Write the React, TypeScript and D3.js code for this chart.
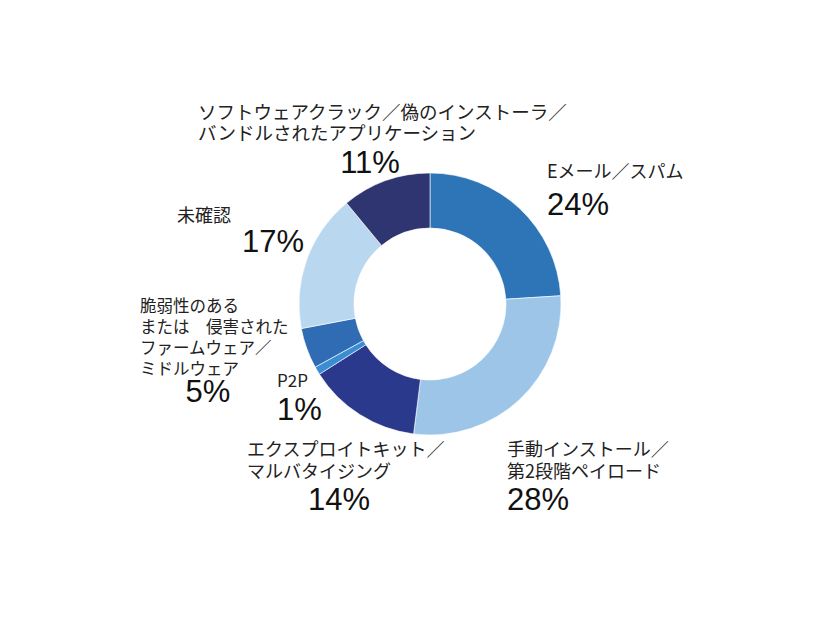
import React, { useEffect, useRef } from 'react';
import * as d3 from 'd3';

// Data (clockwise from 12 o'clock)
const categories = [
  'Eメール／スパム',
  '手動インストール／第2段階ペイロード',
  'エクスプロイトキット／マルバタイジング',
  'P2P',
  '脆弱性のある または 侵害されたファームウェア／ミドルウェア',
  '未確認',
  'ソフトウェアクラック／偽のインストーラ／バンドルされたアプリケーション',
];
const values = [24, 28, 14, 1, 5, 17, 11];
const labelLines = [
  ['Eメール／スパム'],
  ['手動インストール／', '第2段階ペイロード'],
  ['エクスプロイトキット／', 'マルバタイジング'],
  ['P2P'],
  ['脆弱性のある', 'または　侵害された', 'ファームウェア／', 'ミドルウェア'],
  ['未確認'],
  ['ソフトウェアクラック／偽のインストーラ／', 'バンドルされたアプリケーション'],
];
const colors = ['#2e75b8', '#9cc5e8', '#2b398c', '#3a8dd2', '#2f6cb4', '#bad7f0', '#2e3570'];

// label layout: text block left x, first baseline, line gap, font size, pct x, pct baseline, pct anchor
const labelLayout = [
  { x: 547, y: 178, gap: 22, fs: 18, px: 547, py: 215, anchor: 'start' },
  { x: 507, y: 456, gap: 22, fs: 18, px: 507, py: 510, anchor: 'start' },
  { x: 247, y: 456, gap: 22, fs: 18, px: 339, py: 510, anchor: 'middle' },
  { x: 277, y: 387, gap: 22, fs: 17, px: 277, py: 420, anchor: 'start' },
  { x: 140, y: 312, gap: 21, fs: 16.5, px: 208, py: 402, anchor: 'middle' },
  { x: 177, y: 222, gap: 22, fs: 18, px: 273, py: 252, anchor: 'middle' },
  { x: 198, y: 119, gap: 21, fs: 18.5, px: 370, py: 173, anchor: 'middle' },
];

const W = 826;
const H = 620;
const cx = 430;
const cy = 304;
const outerR = 131;
const innerR = 76;

const labelFont = '"Noto Sans CJK JP", "Noto Sans", sans-serif';
const pctFont = '"Liberation Sans", Arial, sans-serif';

const App = () => {
  const ref = useRef<SVGSVGElement>(null);

  useEffect(() => {
    const svg = d3.select(ref.current);
    svg.selectAll('*').remove();

    const pie = d3.pie<number>().sort(null).value(d => d);
    const arc = d3.arc<d3.PieArcDatum<number>>().innerRadius(innerR).outerRadius(outerR);
    const color = d3.scaleOrdinal<number, string>().domain(d3.range(values.length)).range(colors);

    const g = svg.append('g').attr('transform', `translate(${cx},${cy})`);
    g.selectAll('path')
      .data(pie(values))
      .enter()
      .append('path')
      .attr('d', arc)
      .attr('fill', (d, i) => color(i))
      .attr('stroke', '#ffffff')
      .attr('stroke-width', 0.6);

    // Labels
    categories.forEach((c, i) => {
      const lay = labelLayout[i];
      const t = svg.append('text')
        .attr('font-family', labelFont)
        .attr('font-size', lay.fs)
        .attr('fill', '#222');
      labelLines[i].forEach((line, j) => {
        t.append('tspan')
          .attr('x', lay.x)
          .attr('y', lay.y + j * lay.gap)
          .text(line);
      });
      svg.append('text')
        .attr('x', lay.px)
        .attr('y', lay.py)
        .attr('text-anchor', lay.anchor)
        .attr('font-family', pctFont)
        .attr('font-size', 31)
        .attr('fill', '#111')
        .text(`${values[i]}%`);
    });
  }, []);

  return (
    <svg ref={ref} width={W} height={H} style={{ position: 'absolute', left: 0, top: 0, background: '#fff' }} />
  );
};

export default App;
